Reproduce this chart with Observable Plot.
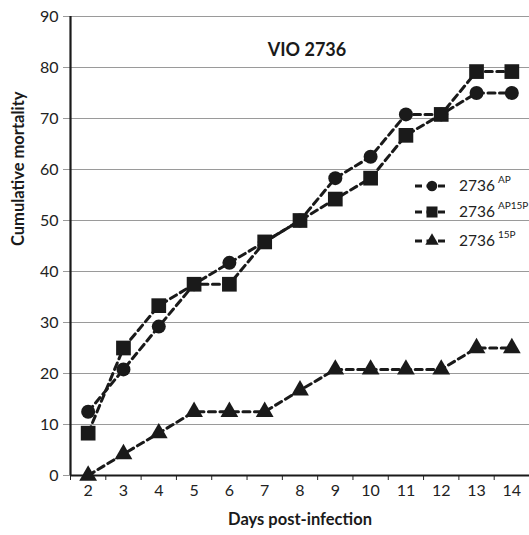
<!DOCTYPE html>
<html>
<head>
<meta charset="utf-8">
<script src="https://cdn.jsdelivr.net/npm/d3@7"></script>
<script src="https://cdn.jsdelivr.net/npm/@observablehq/plot@0.6"></script>
<style>
  html, body { margin: 0; padding: 0; background: #fff; }
  #wrap { position: relative; width: 529px; height: 535px; font-family: Lato, "Open Sans", sans-serif; }
  #legend { position: absolute; left: 413px; top: 173px; }
  .row { position: absolute; left: 0; height: 24px; white-space: nowrap; }
  .row svg { position: absolute; left: 0; top: 0; }
  .row .lab { position: absolute; left: 46px; top: 2px; font-size: 15.5px; color: #222; }
  .row sup { font-size: 10px; position: relative; top: -2px; margin-left: 3px; }
</style>
</head>
<body>
<div id="wrap"><div id="legend"></div></div>
<script>
const days = [2,3,4,5,6,7,8,9,10,11,12,13,14];
const mortalityAP    = [12.5,20.8,29.2,37.5,41.7,45.8,50,58.3,62.5,70.8,70.8,75,75];
const mortalityAP15P = [8.3,25,33.3,37.5,37.5,45.8,50,54.2,58.3,66.7,70.8,79.2,79.2];
const mortality15P   = [0,4.2,8.3,12.5,12.5,12.5,16.7,20.8,20.8,20.8,20.8,25,25];
const seriesNames = ["AP","AP15P","15P"];
const seriesSymbols = ["circle","square","triangle"];
const seriesR = [7, 8.3, 6.6];
const yTicks = [0,10,20,30,40,50,60,70,80,90];
const title = "VIO 2736";
const xLabel = "Days post-infection";
const yLabel = "Cumulative mortality";

const seriesValues = [mortalityAP, mortalityAP15P, mortality15P];
const tables = seriesValues.map((vals, i) => days.map((d, j) => ({day: d, value: vals[j], series: seriesNames[i]})));

const dash = "7,4.5";
const marks = [
  Plot.ruleY(yTicks.filter(v => v > 0), {stroke: "#9a9a9a", strokeWidth: 1}),
  Plot.axisY({ticks: yTicks, tickSize: 7, tickPadding: 5, stroke: "#9a9a9a", fontSize: 16, fill: "#222", label: null}),
  Plot.axisX({ticks: days, tickSize: 0, tickPadding: 9, fontSize: 16, fill: "#222", label: null}),
  Plot.axisX({ticks: d3.range(1.5, 15, 1), tickSize: 5, tickFormat: () => "", stroke: "#222", label: null}),
  Plot.ruleX([1.5], {stroke: "#1a1a1a", strokeWidth: 2.2}),
  Plot.ruleY([0], {stroke: "#1a1a1a", strokeWidth: 2.2}),
  Plot.text([title], {frameAnchor: "top", dy: 27, dx: 7, fontSize: 18, fontWeight: "bold", fill: "#1a1a1a"}),
  Plot.text([xLabel], {frameAnchor: "bottom", dy: 49, fontSize: 16.5, fontWeight: "bold", fill: "#1a1a1a"}),
  Plot.text([yLabel], {frameAnchor: "left", dx: -52, rotate: -90, fontSize: 16.5, fontWeight: "bold", fill: "#1a1a1a"})
];
tables.forEach((t, i) => {
  marks.push(Plot.line(t, {x: "day", y: "value", stroke: "#1a1a1a", strokeWidth: 3, strokeDasharray: dash}));
});
tables.forEach((t, i) => {
  marks.push(Plot.dot(t, {x: "day", y: "value", symbol: () => seriesSymbols[i], r: seriesR[i], fill: "#1a1a1a", stroke: "none"}));
});

const chart = Plot.plot({
  width: 529,
  height: 535,
  marginLeft: 70,
  marginRight: 0,
  marginTop: 16,
  marginBottom: 60,
  style: {fontFamily: "Lato, 'Open Sans', sans-serif", background: "#fff", color: "#222"},
  x: {type: "linear", domain: [1.5, 14.5]},
  y: {domain: [0, 90]},
  symbol: {domain: seriesSymbols, range: seriesSymbols},
  marks
});
document.getElementById("wrap").prepend(chart);

// legend
const legend = document.getElementById("legend");
const rowTops = [0, 26, 55];
seriesNames.forEach((name, i) => {
  const row = document.createElement("div");
  row.className = "row";
  row.style.top = rowTops[i] + "px";
  const svg = d3.create("svg").attr("width", 40).attr("height", 24);
  svg.append("line").attr("x1", 2).attr("x2", 36).attr("y1", 13).attr("y2", 13)
    .attr("stroke", "#1a1a1a").attr("stroke-width", 3).attr("stroke-dasharray", "7,4.5");
  const sym = {circle: d3.symbolCircle, square: d3.symbolSquare, triangle: d3.symbolTriangle}[seriesSymbols[i]];
  const rr = seriesR[i] * 0.75;
  svg.append("path").attr("transform", "translate(19,13)")
    .attr("d", d3.symbol(sym, rr * rr * Math.PI)()).attr("fill", "#1a1a1a");
  row.appendChild(svg.node());
  const lab = document.createElement("span");
  lab.className = "lab";
  lab.innerHTML = "2736<sup>" + name + "</sup>";
  row.appendChild(lab);
  legend.appendChild(row);
});
</script>
</body>
</html>
